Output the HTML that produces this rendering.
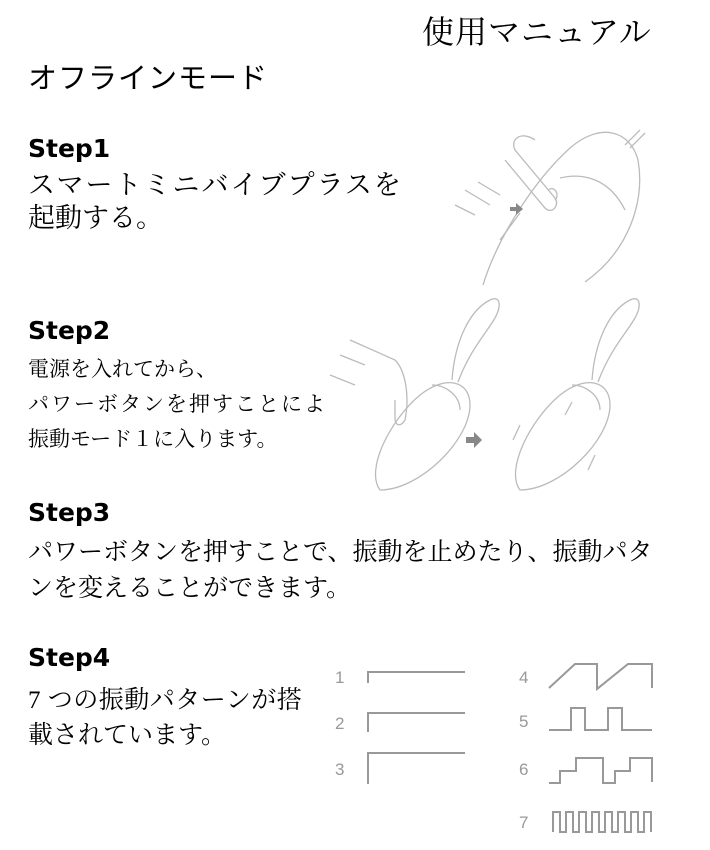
<!DOCTYPE html>
<html><head><meta charset="utf-8"><style>
html,body{margin:0;padding:0;background:#fff;}
body{width:710px;height:850px;position:relative;overflow:hidden;}
.t{position:absolute;white-space:nowrap;color:#000;line-height:1;}
.s{font-family:"Liberation Serif","Noto Serif CJK SC","Noto Sans CJK JP",serif;}
.g{font-family:"Liberation Sans","Noto Sans CJK JP",sans-serif;}
.h{font-family:"DejaVu Sans","Liberation Sans",sans-serif;font-weight:bold;font-size:25px;}
svg{position:absolute;left:0;top:0;}
</style></head><body>
<div class="t s" style="left:422px;top:16px;font-size:32px;letter-spacing:1px;">使用マニュアル</div>
<div class="t g" style="left:28px;top:65px;font-size:29px;letter-spacing:1px;">オフラインモード</div>

<div class="t h" style="left:28px;top:136px;">Step1</div>
<div class="t s" style="left:28px;top:172px;font-size:27px;letter-spacing:2px;">スマートミニバイブプラスを</div>
<div class="t s" style="left:28px;top:205px;font-size:27px;">起動する。</div>

<div class="t h" style="left:28px;top:318px;">Step2</div>
<div class="t s" style="left:28px;top:359px;font-size:21px;">電源を入れてから、</div>
<div class="t s" style="left:28px;top:394px;font-size:21px;letter-spacing:2px;">パワーボタンを押すことによ</div>
<div class="t s" style="left:28px;top:429px;font-size:21px;">振動モード１に入ります。</div>

<div class="t h" style="left:28px;top:500px;">Step3</div>
<div class="t s" style="left:28px;top:540px;font-size:25px;">パワーボタンを押すことで、振動を止めたり、振動パタ</div>
<div class="t s" style="left:28px;top:576px;font-size:25px;">ンを変えることができます。</div>

<div class="t h" style="left:28px;top:645px;">Step4</div>
<div class="t s" style="left:28px;top:688px;font-size:25px;letter-spacing:0.5px;">7 つの振動パターンが搭</div>
<div class="t s" style="left:28px;top:723px;font-size:25px;">載されています。</div>

<svg width="710" height="850" viewBox="0 0 710 850">
<g font-family="Liberation Sans, sans-serif" font-size="17" fill="#999">
<text x="335" y="683">1</text><text x="335" y="729">2</text><text x="335" y="775">3</text>
<text x="519" y="683">4</text><text x="519" y="727">5</text><text x="519" y="775">6</text><text x="519" y="828">7</text>
</g>
<g fill="none" stroke="#999" stroke-width="2">
<polyline points="368,683 368,672 465,672"/>
<polyline points="368,732 368,713 465,713"/>
<polyline points="368,784 368,753 465,753"/>
<polyline points="549,688 575,664 597,664 597,689 628,664 652,664 652,688"/>
<polyline points="549,730 571,730 571,708 585,708 585,730 608,730 608,708 622,708 622,730 652,730"/>
<polyline points="549,783 560,783 560,771 576,771 576,758 603,758 603,783 615,783 615,771 630,771 630,758 652,758 652,782"/>
<polyline points="553,832 553,812 560,812 560,832 566,832 566,812 573,812 573,832 579,832 579,812 586,812 586,832 592,832 592,812 599,812 599,832 605,832 605,812 612,812 612,832 618,832 618,812 625,812 625,832 631,832 631,812 638,812 638,832 644,832 644,812 651,812 651,832"/>
</g>
<g fill="none" stroke="#bbb" stroke-width="1.3">
<path d="M483,285 C500,230 540,175 570,148 C600,122 630,130 638,160 C645,200 630,250 585,282"/>
<path d="M560,178 C585,172 610,180 625,210"/>
<path d="M625,145 L640,130 M630,148 L645,133"/>
<path d="M455,205 L475,215 M465,190 L490,205 M478,182 L500,195 M505,160 L545,208 C552,215 560,205 555,198 L515,150 C510,140 520,130 535,140"/>
<path d="M520,213 L500,240"/>
<path d="M548,190 C555,185 560,195 555,200"/>
<path d="M380,490 C365,470 390,420 420,395 C445,375 470,380 470,405 C470,440 420,490 380,490 Z"/>
<path d="M432,385 C445,385 460,395 460,410"/>
<path d="M452,380 C455,340 470,310 490,300 C500,295 502,305 495,318 C485,335 470,350 458,382"/>
<path d="M330,375 L355,385 M340,355 L365,365 M350,340 L395,360 C405,370 410,395 405,420 C400,428 395,425 395,418 L395,400"/>
<path d="M520,490 C505,470 530,420 560,395 C585,375 610,380 610,405 C610,440 560,490 520,490 Z"/>
<path d="M572,385 C585,385 600,395 600,410"/>
<path d="M592,380 C595,340 610,310 630,300 C640,295 642,305 635,318 C625,335 610,350 598,382"/>
<path d="M513,440 L520,425 M588,470 L595,455 M565,415 L572,402"/>
</g>
<polygon points="466,437 474,437 474,432 482,440 474,448 474,443 466,443" fill="#888"/>
<polygon points="510,207 516,207 516,203 523,209 516,215 516,211 510,211" fill="#888"/>
</svg>
</body></html>
